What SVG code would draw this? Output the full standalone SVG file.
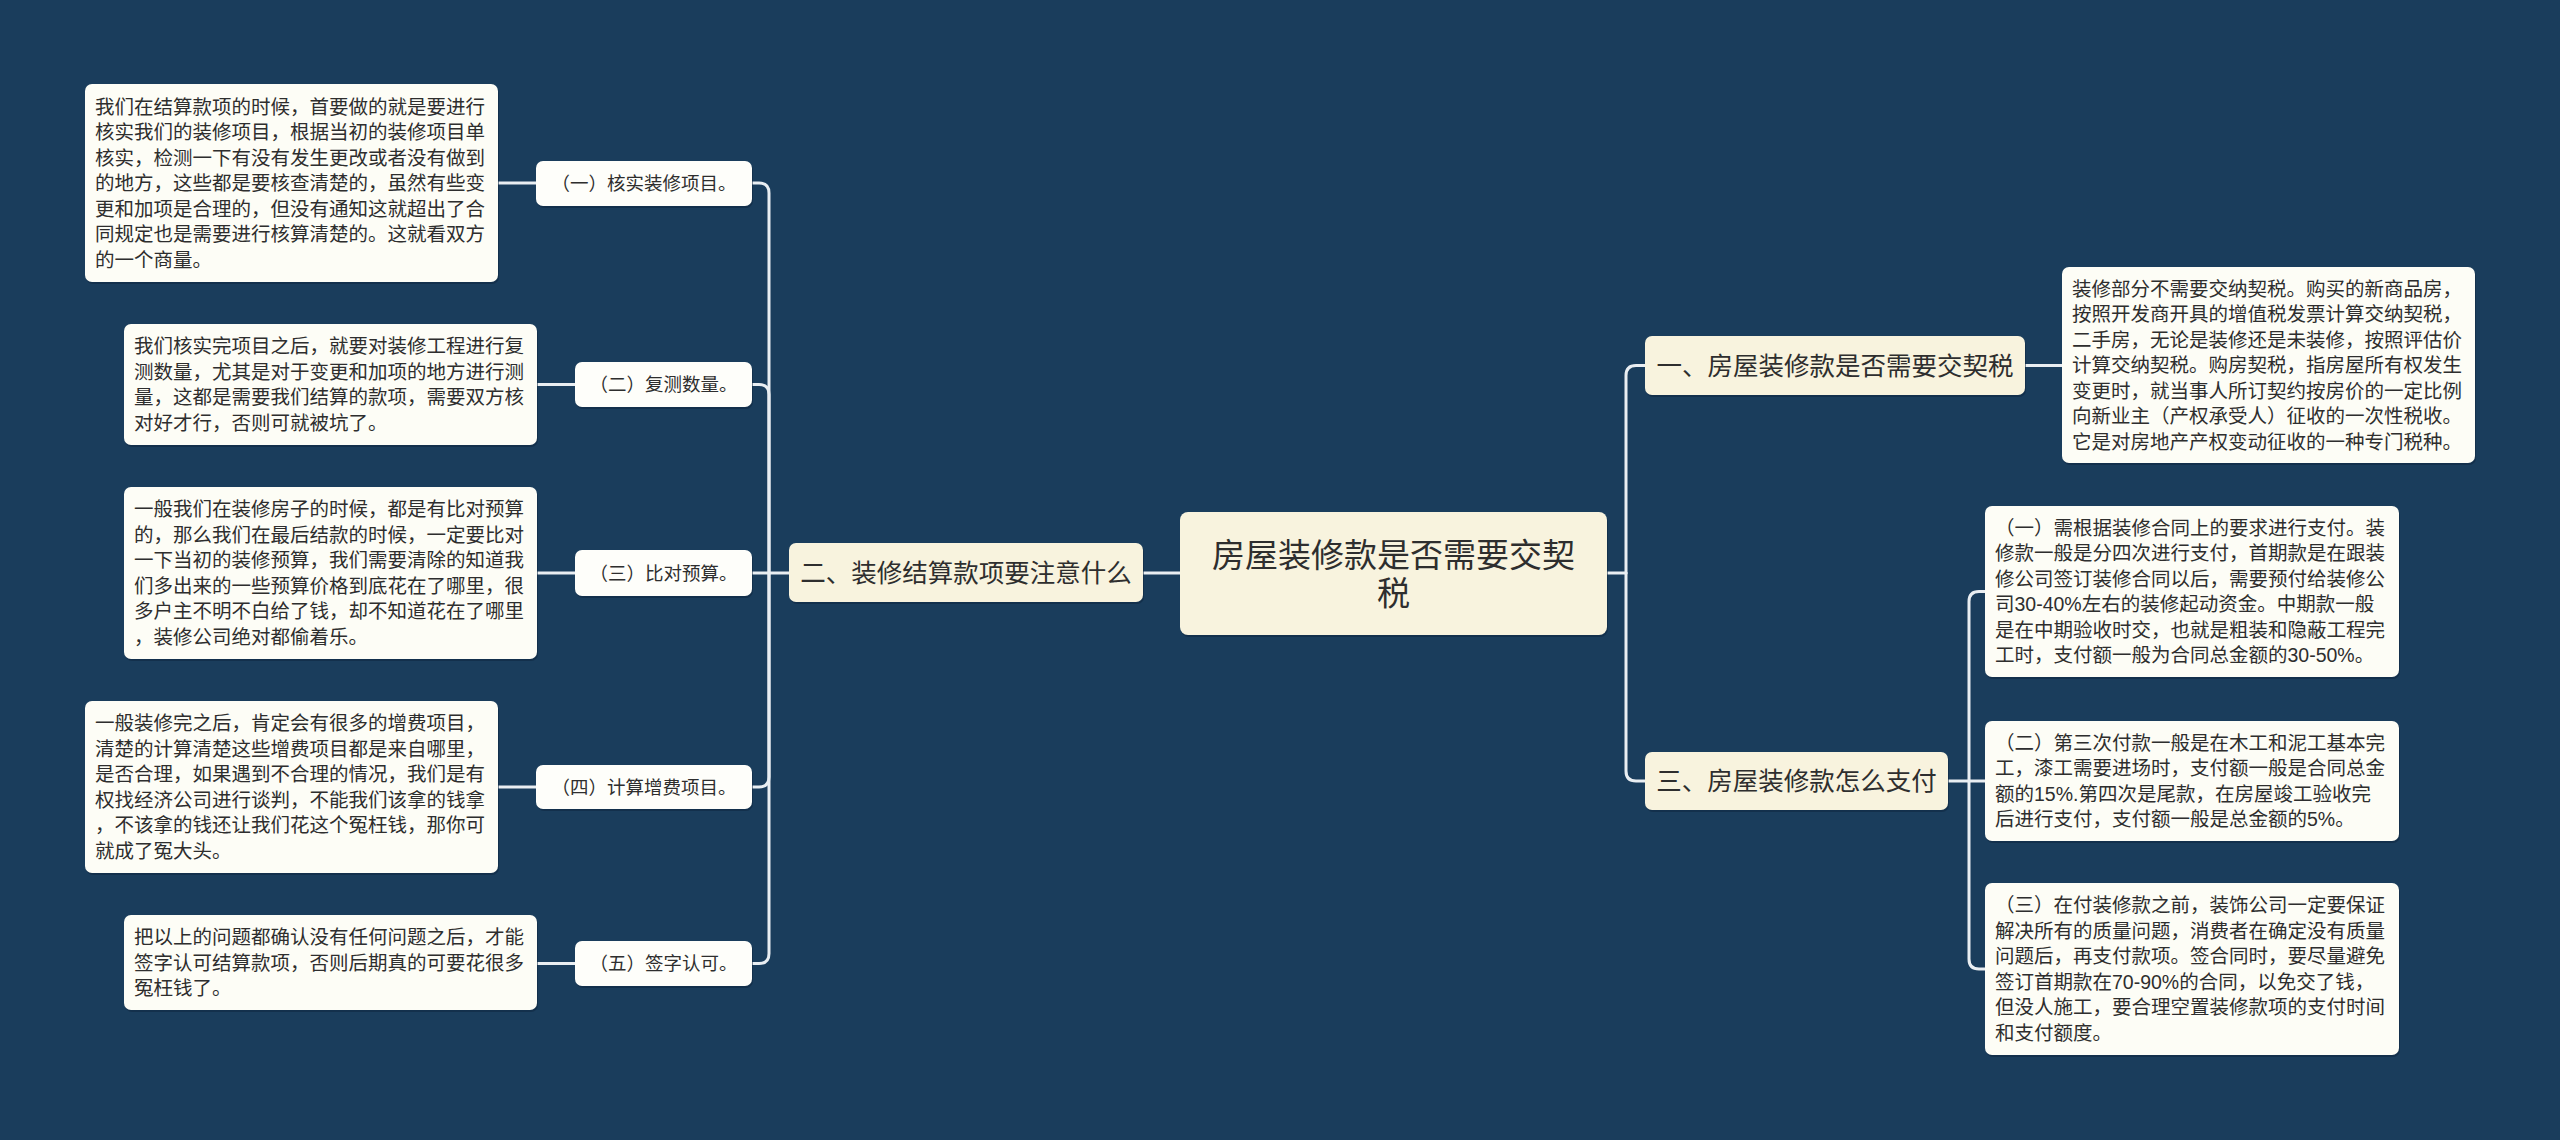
<svg xmlns="http://www.w3.org/2000/svg" width="2560" height="1140" viewBox="0 0 2560 1140">
<defs>
<style>
text{font-family:"Liberation Sans","Noto Sans CJK SC",sans-serif;fill:#2e2e2e;dominant-baseline:central}
.main{fill:#f8f3de}
.leaf{fill:#fdfdf6}
.sub{fill:#fefefa}
.shadow{fill:#0e2740;opacity:0.55}
.root{font-size:33px;text-anchor:middle}
.l1{font-size:25.5px;text-anchor:middle}
.l2{font-size:18.5px;text-anchor:middle}
.lf{font-size:19.5px}
.conn path{fill:none;stroke:#e9eef2;stroke-width:3;stroke-linecap:round}
</style>
</defs>
<rect width="2560" height="1140" fill="#1a3d5c"/>

<g class="conn" id="connectors">
<path d="M1180 573 H1143"/>
<path d="M789 573 H769"/>
<path d="M769 573 V193 Q769 183 759 183 H752"/>
<path d="M769 573 V394.5 Q769 384.5 759 384.5 H752"/>
<path d="M769 573 H752"/>
<path d="M769 573 V777 Q769 787 759 787 H752"/>
<path d="M769 573 V953.5 Q769 963.5 759 963.5 H752"/>
<path d="M498 183 H536"/>
<path d="M537 384.5 H575"/>
<path d="M537 573 H575"/>
<path d="M498 787 H536"/>
<path d="M537 963.5 H575"/>
<path d="M1607 573 H1626"/>
<path d="M1626 573 V375.5 Q1626 365.5 1636 365.5 H1645"/>
<path d="M1626 573 V771 Q1626 781 1636 781 H1645"/>
<path d="M2025 365.5 H2062"/>
<path d="M1948 781 H1969"/>
<path d="M1969 781 V601.5 Q1969 591.5 1979 591.5 H1985"/>
<path d="M1969 781 H1985"/>
<path d="M1969 781 V959 Q1969 969 1979 969 H1985"/>
</g>

<g id="root">
<rect class="shadow" x="1181" y="514" width="427" height="123" rx="8"/>
<rect class="main" x="1180" y="512" width="427" height="123" rx="8"/>
<text class="root" x="1393.5" y="555">房屋装修款是否需要交契</text>
<text class="root" x="1393.5" y="593">税</text>
</g>

<g id="n2">
<rect class="shadow" x="790" y="545" width="354" height="59" rx="7"/>
<rect class="main" x="789" y="543" width="354" height="59" rx="7"/>
<text class="l1" x="966" y="572.5">二、装修结算款项要注意什么</text>
</g>

<g id="n1">
<rect class="shadow" x="1646" y="338" width="380" height="59" rx="7"/>
<rect class="main" x="1645" y="336" width="380" height="59" rx="7"/>
<text class="l1" x="1835" y="365.5">一、房屋装修款是否需要交契税</text>
</g>

<g id="n3">
<rect class="shadow" x="1646" y="754" width="303" height="58" rx="7"/>
<rect class="main" x="1645" y="752" width="303" height="58" rx="7"/>
<text class="l1" x="1796.5" y="781">三、房屋装修款怎么支付</text>
</g>

<g id="n2-1">
<rect class="shadow" x="537" y="163" width="216" height="45" rx="7"/>
<rect class="sub" x="536" y="161" width="216" height="45" rx="7"/>
<text class="l2" x="644" y="183.5">（一）核实装修项目。</text>
</g>
<g id="n2-2">
<rect class="shadow" x="576" y="364" width="177" height="45" rx="7"/>
<rect class="sub" x="575" y="362" width="177" height="45" rx="7"/>
<text class="l2" x="663.5" y="384.5">（二）复测数量。</text>
</g>
<g id="n2-3">
<rect class="shadow" x="576" y="552" width="177" height="46" rx="7"/>
<rect class="sub" x="575" y="550" width="177" height="46" rx="7"/>
<text class="l2" x="663.5" y="573">（三）比对预算。</text>
</g>
<g id="n2-4">
<rect class="shadow" x="537" y="767" width="216" height="44" rx="7"/>
<rect class="sub" x="536" y="765" width="216" height="44" rx="7"/>
<text class="l2" x="644" y="787">（四）计算增费项目。</text>
</g>
<g id="n2-5">
<rect class="shadow" x="576" y="943" width="177" height="45" rx="7"/>
<rect class="sub" x="575" y="941" width="177" height="45" rx="7"/>
<text class="l2" x="663.5" y="963.5">（五）签字认可。</text>
</g>

<g id="leaf2-1">
<rect class="shadow" x="86" y="86" width="413" height="198" rx="7"/>
<rect class="leaf" x="85" y="84" width="413" height="198" rx="7"/>
<text class="lf" x="95" y="106.5">我们在结算款项的时候，首要做的就是要进行</text>
<text class="lf" x="95" y="132">核实我们的装修项目，根据当初的装修项目单</text>
<text class="lf" x="95" y="157.5">核实，检测一下有没有发生更改或者没有做到</text>
<text class="lf" x="95" y="183">的地方，这些都是要核查清楚的，虽然有些变</text>
<text class="lf" x="95" y="208.5">更和加项是合理的，但没有通知这就超出了合</text>
<text class="lf" x="95" y="234">同规定也是需要进行核算清楚的。这就看双方</text>
<text class="lf" x="95" y="259.5">的一个商量。</text>
</g>

<g id="leaf2-2">
<rect class="shadow" x="125" y="326" width="413" height="121" rx="7"/>
<rect class="leaf" x="124" y="324" width="413" height="121" rx="7"/>
<text class="lf" x="134" y="346.25">我们核实完项目之后，就要对装修工程进行复</text>
<text class="lf" x="134" y="371.75">测数量，尤其是对于变更和加项的地方进行测</text>
<text class="lf" x="134" y="397.25">量，这都是需要我们结算的款项，需要双方核</text>
<text class="lf" x="134" y="422.75">对好才行，否则可就被坑了。</text>
</g>

<g id="leaf2-3">
<rect class="shadow" x="125" y="489" width="413" height="172" rx="7"/>
<rect class="leaf" x="124" y="487" width="413" height="172" rx="7"/>
<text class="lf" x="134" y="509.25">一般我们在装修房子的时候，都是有比对预算</text>
<text class="lf" x="134" y="534.75">的，那么我们在最后结款的时候，一定要比对</text>
<text class="lf" x="134" y="560.25">一下当初的装修预算，我们需要清除的知道我</text>
<text class="lf" x="134" y="585.75">们多出来的一些预算价格到底花在了哪里，很</text>
<text class="lf" x="134" y="611.25">多户主不明不白给了钱，却不知道花在了哪里</text>
<text class="lf" x="134" y="636.75">，装修公司绝对都偷着乐。</text>
</g>

<g id="leaf2-4">
<rect class="shadow" x="86" y="703" width="413" height="172" rx="7"/>
<rect class="leaf" x="85" y="701" width="413" height="172" rx="7"/>
<text class="lf" x="95" y="723.25">一般装修完之后，肯定会有很多的增费项目，</text>
<text class="lf" x="95" y="748.75">清楚的计算清楚这些增费项目都是来自哪里，</text>
<text class="lf" x="95" y="774.25">是否合理，如果遇到不合理的情况，我们是有</text>
<text class="lf" x="95" y="799.75">权找经济公司进行谈判，不能我们该拿的钱拿</text>
<text class="lf" x="95" y="825.25">，不该拿的钱还让我们花这个冤枉钱，那你可</text>
<text class="lf" x="95" y="850.75">就成了冤大头。</text>
</g>

<g id="leaf2-5">
<rect class="shadow" x="125" y="917" width="413" height="95" rx="7"/>
<rect class="leaf" x="124" y="915" width="413" height="95" rx="7"/>
<text class="lf" x="134" y="937">把以上的问题都确认没有任何问题之后，才能</text>
<text class="lf" x="134" y="962.5">签字认可结算款项，否则后期真的可要花很多</text>
<text class="lf" x="134" y="988">冤枉钱了。</text>
</g>

<g id="leaf1-1">
<rect class="shadow" x="2063" y="269" width="413" height="196" rx="7"/>
<rect class="leaf" x="2062" y="267" width="413" height="196" rx="7"/>
<text class="lf" x="2072" y="288.5">装修部分不需要交纳契税。购买的新商品房，</text>
<text class="lf" x="2072" y="314">按照开发商开具的增值税发票计算交纳契税，</text>
<text class="lf" x="2072" y="339.5">二手房，无论是装修还是未装修，按照评估价</text>
<text class="lf" x="2072" y="365">计算交纳契税。购房契税，指房屋所有权发生</text>
<text class="lf" x="2072" y="390.5">变更时，就当事人所订契约按房价的一定比例</text>
<text class="lf" x="2072" y="416">向新业主（产权承受人）征收的一次性税收。</text>
<text class="lf" x="2072" y="441.5">它是对房地产产权变动征收的一种专门税种。</text>
</g>

<g id="leaf3-1">
<rect class="shadow" x="1986" y="508" width="414" height="171" rx="7"/>
<rect class="leaf" x="1985" y="506" width="414" height="171" rx="7"/>
<text class="lf" x="1995" y="527.75">（一）需根据装修合同上的要求进行支付。装</text>
<text class="lf" x="1995" y="553.25">修款一般是分四次进行支付，首期款是在跟装</text>
<text class="lf" x="1995" y="578.75">修公司签订装修合同以后，需要预付给装修公</text>
<text class="lf" x="1995" y="604.25">司30-40%左右的装修起动资金。中期款一般</text>
<text class="lf" x="1995" y="629.75">是在中期验收时交，也就是粗装和隐蔽工程完</text>
<text class="lf" x="1995" y="655.25">工时，支付额一般为合同总金额的30-50%。</text>
</g>

<g id="leaf3-2">
<rect class="shadow" x="1986" y="723" width="414" height="120" rx="7"/>
<rect class="leaf" x="1985" y="721" width="414" height="120" rx="7"/>
<text class="lf" x="1995" y="742.75">（二）第三次付款一般是在木工和泥工基本完</text>
<text class="lf" x="1995" y="768.25">工，漆工需要进场时，支付额一般是合同总金</text>
<text class="lf" x="1995" y="793.75">额的15%.第四次是尾款，在房屋竣工验收完</text>
<text class="lf" x="1995" y="819.25">后进行支付，支付额一般是总金额的5%。</text>
</g>

<g id="leaf3-3">
<rect class="shadow" x="1986" y="885" width="414" height="172" rx="7"/>
<rect class="leaf" x="1985" y="883" width="414" height="172" rx="7"/>
<text class="lf" x="1995" y="905.25">（三）在付装修款之前，装饰公司一定要保证</text>
<text class="lf" x="1995" y="930.75">解决所有的质量问题，消费者在确定没有质量</text>
<text class="lf" x="1995" y="956.25">问题后，再支付款项。签合同时，要尽量避免</text>
<text class="lf" x="1995" y="981.75">签订首期款在70-90%的合同，以免交了钱，</text>
<text class="lf" x="1995" y="1007.25">但没人施工，要合理空置装修款项的支付时间</text>
<text class="lf" x="1995" y="1032.75">和支付额度。</text>
</g>
</svg>
